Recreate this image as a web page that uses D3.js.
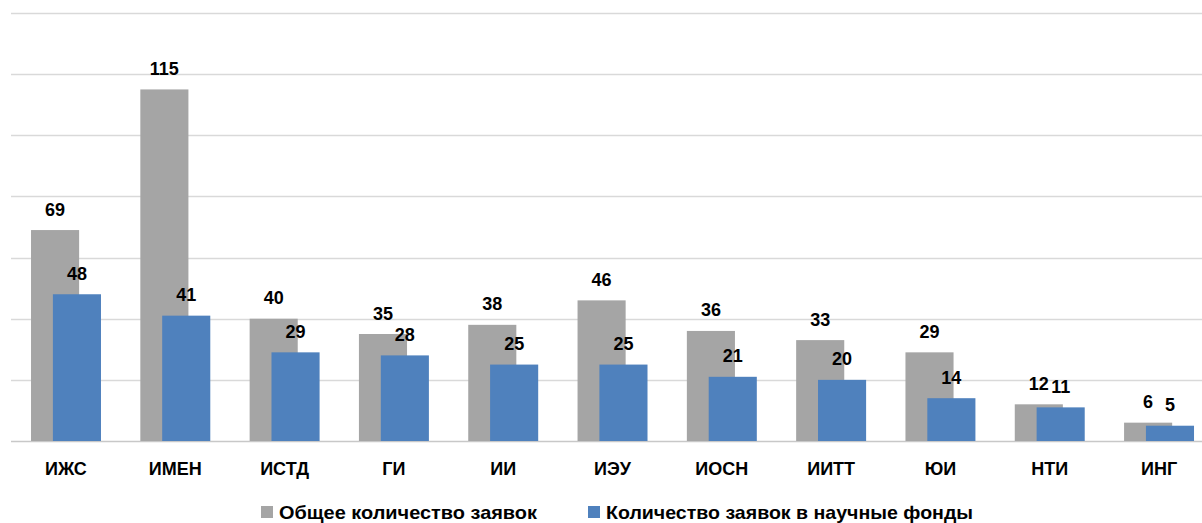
<!DOCTYPE html>
<html><head><meta charset="utf-8">
<script src="https://cdn.jsdelivr.net/npm/d3@7"></script>
<style>body{margin:0;background:#fff}svg{display:block}</style>
</head><body>
<svg id="c" width="1202" height="523"></svg>
<script>
const categories = ["ИЖС","ИМЕН","ИСТД","ГИ","ИИ","ИЭУ","ИОСН","ИИТТ","ЮИ","НТИ","ИНГ"];
const totalValues = [69,115,40,35,38,46,36,33,29,12,6];
const fundValues = [48,41,29,28,25,25,21,20,14,11,5];
const seriesNames = ["Общее количество заявок","Количество заявок в научные фонды"];
const gridTicks = [0,20,40,60,80,100,120,140];
const colors = ["#A5A5A5","#4F81BD"];

const svg = d3.select("#c");
const x = d3.scaleBand().domain(categories).range([11.35,1213.7]).paddingInner(0).paddingOuter(0);
const y = d3.scaleLinear().domain([0,140]).range([441,13]);
const step = x.step();
const bw = step*0.44, off = step*0.2;
const font = "'Liberation Sans', Arial, sans-serif";

svg.append("g").selectAll("line").data(gridTicks).join("line")
  .attr("x1",11).attr("x2",1202)
  .attr("y1",d=>Math.round(y(d))+0.5).attr("y2",d=>Math.round(y(d))+0.5)
  .attr("stroke",d=>d===0?"#C8C8C8":"#D9D9D9").attr("stroke-width",1.5);

const series = [totalValues, fundValues];
series.forEach((vals,si)=>{
  const cx = c => x(c)+step/2 + (si===0 ? -off/2 : off/2);
  const g = svg.append("g");
  g.selectAll("rect").data(categories).join("rect")
    .attr("x",c=>cx(c)-bw/2).attr("width",bw)
    .attr("y",(c,i)=>y(vals[i])).attr("height",(c,i)=>y(0)-y(vals[i]))
    .attr("fill",colors[si]);
  g.selectAll("text").data(categories).join("text")
    .attr("x",c=>cx(c)).attr("y",(c,i)=>y(vals[i])-14.5)
    .attr("text-anchor","middle").attr("font-family",font).attr("font-weight","bold")
    .attr("font-size",18).attr("fill","#000").text((c,i)=>vals[i]);
});

svg.append("g").selectAll("text").data(categories).join("text")
  .attr("x",c=>x(c)+step/2).attr("y",475)
  .attr("text-anchor","middle").attr("font-family",font).attr("font-weight","bold")
  .attr("font-size",18).attr("fill","#000").text(d=>d);

const legend = [{x:261,tx:279,tl:258},{x:588,tx:606,tl:367}];
legend.forEach((L,i)=>{
  svg.append("rect").attr("x",L.x).attr("y",506).attr("width",12).attr("height",12).attr("fill",colors[i]);
  svg.append("text").attr("x",L.tx).attr("y",519).attr("font-family",font).attr("font-weight","bold")
    .attr("font-size",19).attr("fill","#000")
    .attr("textLength",L.tl).attr("lengthAdjust","spacingAndGlyphs").text(seriesNames[i]);
});
</script>
</body></html>
